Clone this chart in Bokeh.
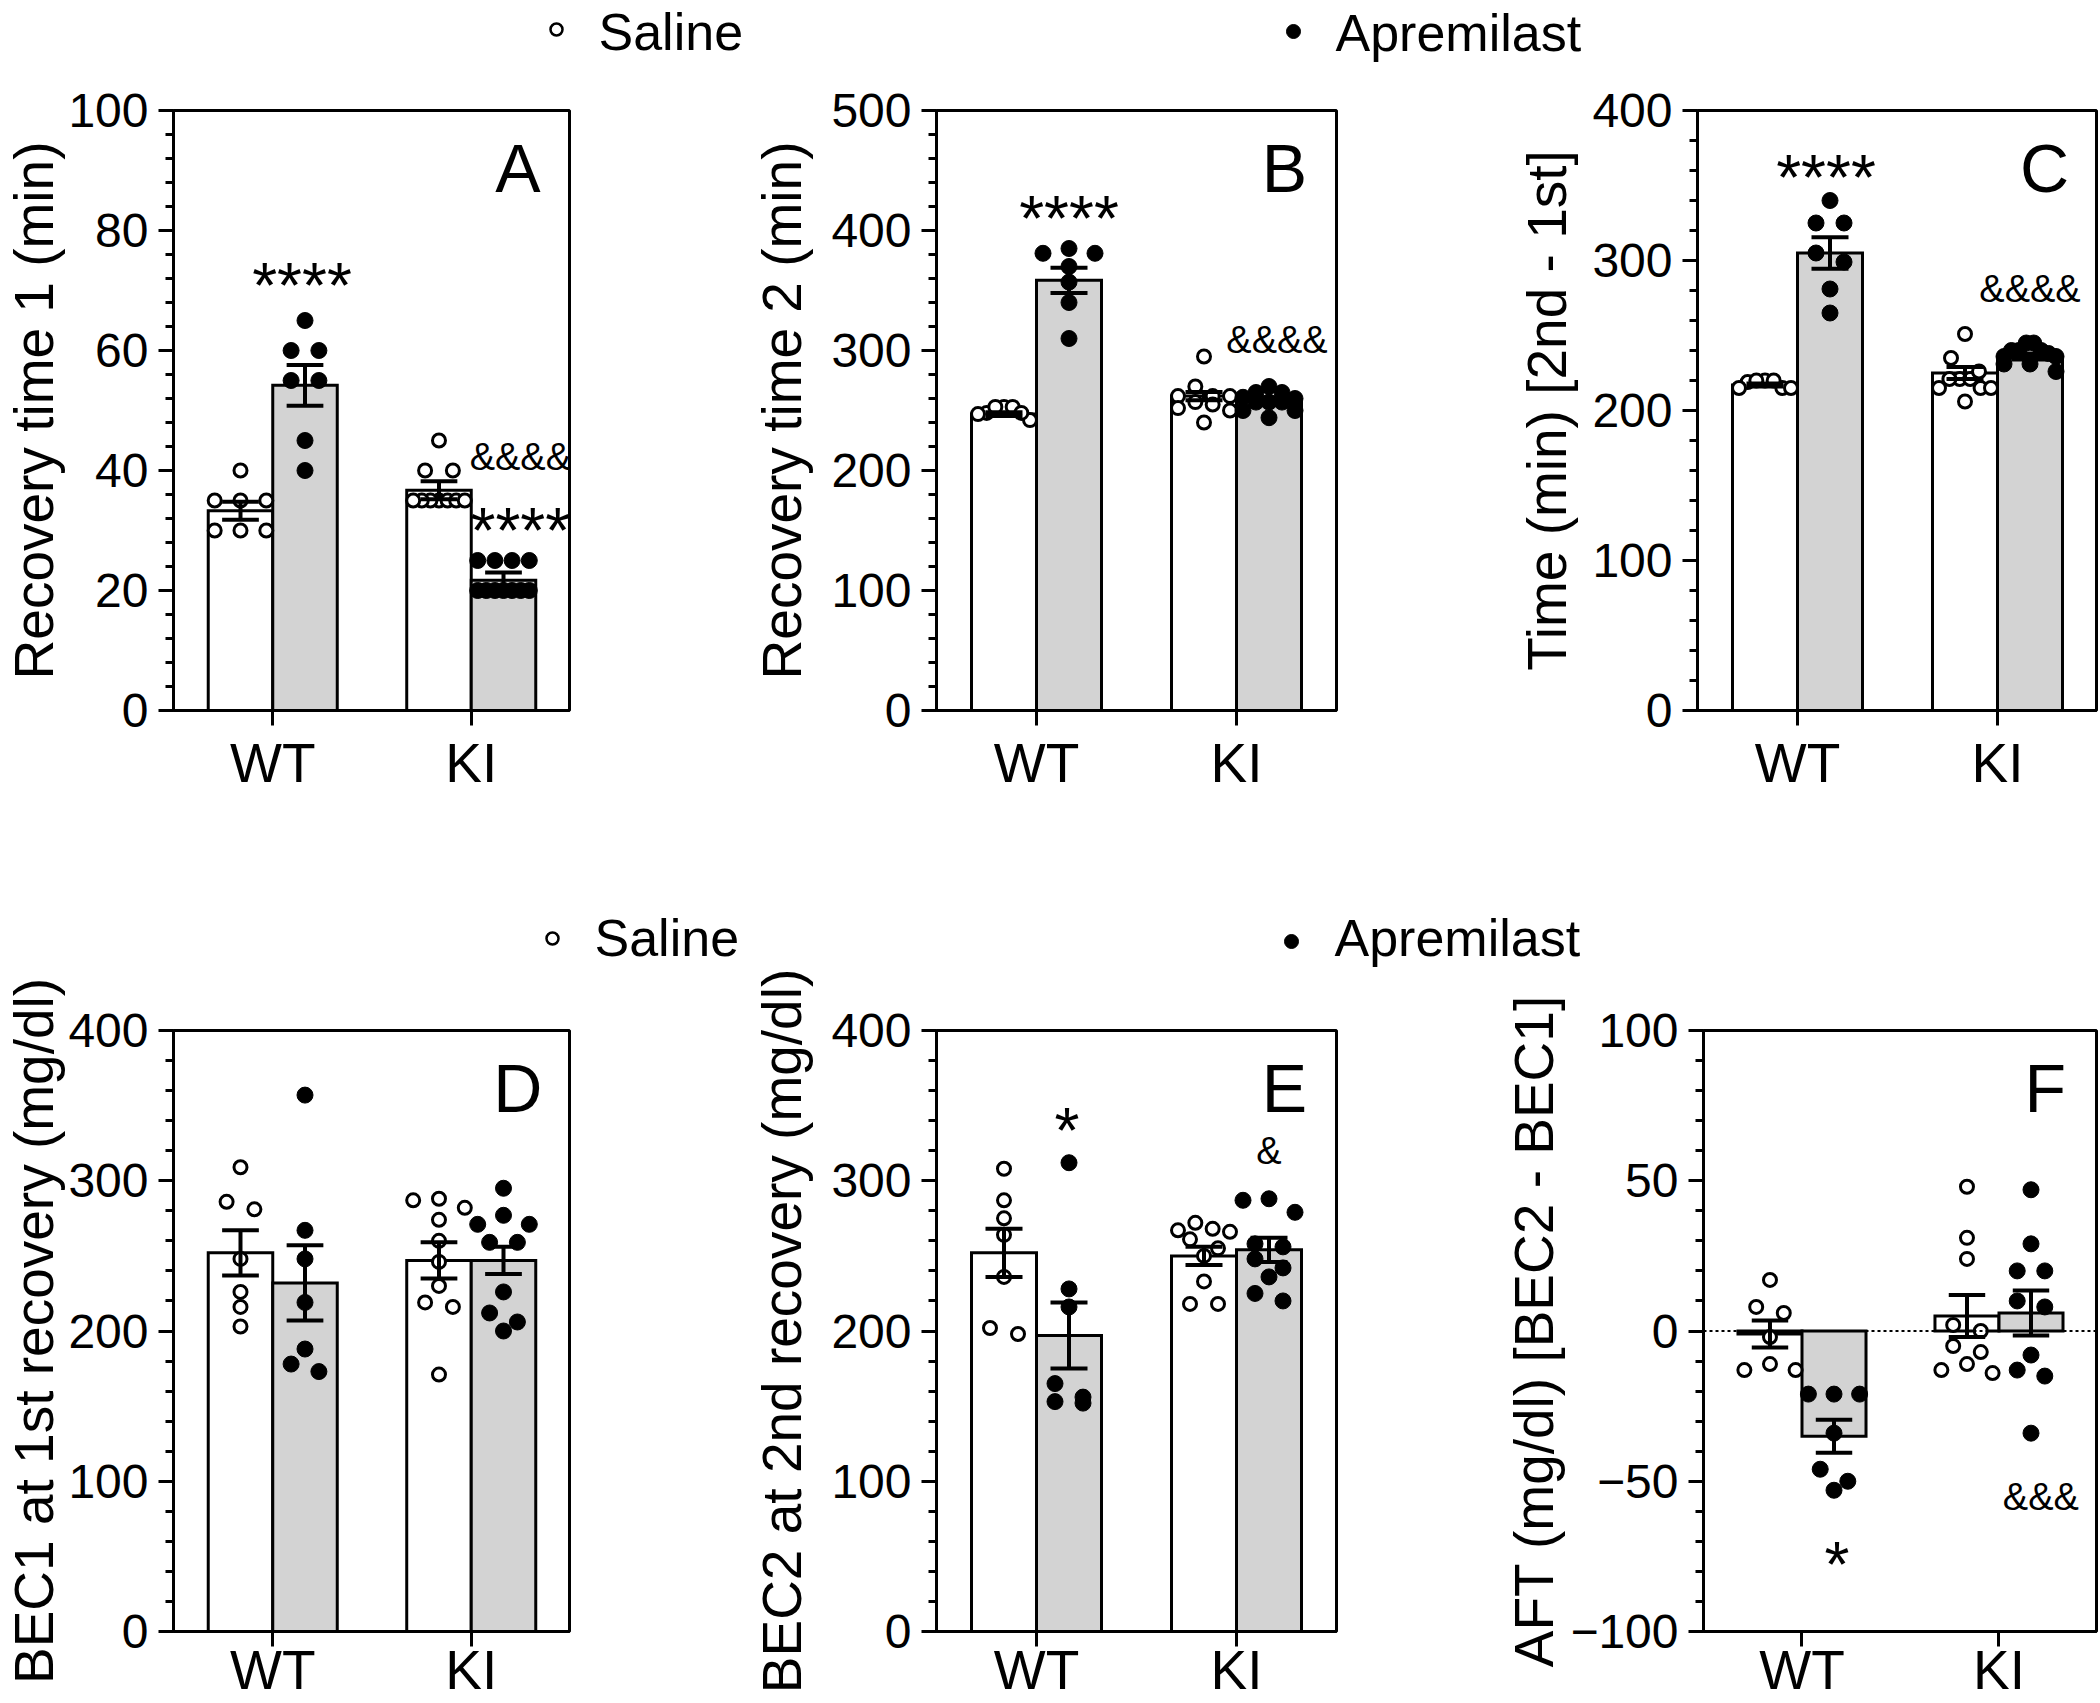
from bokeh.plotting import figure
from bokeh.layouts import column, row
from bokeh.models import Range1d, SingleIntervalTicker, FixedTicker, Span
from bokeh.embed import file_html
from bokeh.resources import INLINE
from bokeh.core.properties import value

FONT = "Liberation Sans"

# ---------------- data ----------------
groups = ["WT", "KI"]
treatments = ["Saline", "Apremilast"]

# A: Recovery time 1 (min)
a_wt_saline = [40, 35, 35, 35, 30, 30, 30]
a_wt_apremilast = [65, 60, 60, 55, 55, 45, 40]
a_ki_saline = [45, 40, 40, 35, 35, 35, 35, 35, 35, 35]
a_ki_apremilast = [25, 25, 25, 25, 20, 20, 20, 20, 20, 20, 20]
a_means = [33.3, 54.2, 36.7, 21.7]
a_sems = [1.5, 3.4, 1.5, 1.3]

# B: Recovery time 2 (min)
b_wt_saline = [248, 253, 253, 242, 253, 247, 248]
b_wt_apremilast = [381, 385, 381, 370, 357, 340, 310]
b_ki_saline = [295, 270, 262, 262, 257, 250, 255, 240, 262, 252]
b_ki_apremilast = [265, 270, 265, 260, 250, 250, 244, 257, 257, 257, 261]
b_means = [247, 358.5, 262, 259]
b_sems = [1.5, 10.5, 3.5, 2.0]

# C: Time (min) [2nd - 1st]
c_wt_saline = [215, 219, 220, 220, 215, 220, 215]
c_wt_apremilast = [340, 325, 325, 299, 305, 281, 265]
c_ki_saline = [251, 235, 221, 221, 221, 226, 215, 215, 215, 206]
c_ki_apremilast = [240, 245, 240, 240, 245, 226, 231, 231, 236, 236, 238]
c_means = [217, 305, 225, 236]
c_sems = [1.0, 10.5, 4.0, 2.0]

# D: BEC1 at 1st recovery (mg/dl)
d_wt_saline = [309, 281, 286, 248, 226, 216, 203]
d_wt_apremilast = [357, 267, 248, 219, 188, 173, 178]
d_ki_saline = [282, 287, 288, 274, 260, 246, 230, 219, 216, 171]
d_ki_apremilast = [295, 271, 277, 271, 259, 259, 226, 212, 200, 206]
d_means = [252, 232, 247, 247]
d_sems = [15, 25, 12, 9]

# E: BEC2 at 2nd recovery (mg/dl)
e_wt_saline = [308, 287, 275, 264, 236, 198, 202]
e_wt_apremilast = [312, 228, 216, 152, 156, 165, 153]
e_ki_saline = [267, 266, 272, 268, 255, 261, 250, 233, 218, 218]
e_ki_apremilast = [288, 287, 279, 258, 256, 248, 242, 236, 220, 225]
e_means = [252, 197, 250, 254]
e_sems = [16, 22, 6, 8]

# F: AFT (mg/dl) [BEC2 - BEC1]
f_wt_saline = [17, 6, 8, -2, -13, -11, -13]
f_wt_apremilast = [-21, -21, -21, -34, -46, -50, -53]
f_ki_saline = [48, 31, 24, 2, 0, -5, -11, -7, -13, -14]
f_ki_apremilast = [47, 29, 20, 20, 8, 10, -8, -13, -15, -34]
f_means = [-1, -35, 5, 6]
f_sems = [4.5, 5.5, 7.0, 7.5]

# significance marks: (text, group index, treatment index, value at glyph centre, x shift px)
a_marks = [("****", 0, 1, 73.2, -3), ("&&&&", 1, 1, 42.2, 17), ("****", 1, 1, 32.3, 17)]
b_marks = [("****", 0, 1, 421.7, 0), ("&&&&", 1, 1, 308.8, 8)]
c_marks = [("****", 0, 1, 365, -4), ("&&&&", 1, 1, 280.7, 0)]
d_marks = []
e_marks = [("*", 0, 1, 342.8, -2), ("&", 1, 1, 319.7, 0)]
f_marks = [("*", 0, 1, -72.9, 3), ("&&&", 1, 1, -55.2, 10)]

panel_letters = ["A", "B", "C", "D", "E", "F"]
y_titles = ["Recovery time 1 (min)", "Recovery time 2 (min)", "Time (min) [2nd - 1st]",
            "BEC1 at 1st recovery (mg/dl)", "BEC2 at 2nd recovery (mg/dl)", "AFT (mg/dl) [BEC2 - BEC1]"]
y_limits = [(0, 100), (0, 500), (0, 400), (0, 400), (0, 400), (-100, 100)]
y_major = [20, 100, 100, 100, 100, 50]

# ---------------- layout (page pixels) ----------------
PX_PER_X = 200.0
BAR_W = 0.325
CAP_W = 0.185
DOT = 16.0
COLS = [  # fig_left, fig_right, frame_left, frame_right
    (0, 740, 170, 569),
    (740, 1500, 936, 1336),
    (1500, 2100, 1697, 2096),
]
ROWS = [  # fig_top, fig_bottom, frame_top, frame_bottom, x label standoff
    (80, 900, 110, 710, 6),
    (968, 1703, 1030, 1631, -8),
]
TITLE_STANDOFF = [0, 15, 11, 0, 15, 2]
LETTER_FROM_RIGHT = 52
LETTER_FRAC = 0.905


def swarm_offsets(vals, pxv, dia=DOT - 2, maxspan=52.0):
    n = len(vals)
    order = sorted(range(n), key=lambda i: -vals[i])
    rows_ = []
    for i in order:
        if rows_ and (vals[rows_[-1][0]] - vals[i]) * pxv < dia:
            rows_[-1].append(i)
        else:
            rows_.append([i])
    off = [0.0] * n
    for r in rows_:
        k = len(r)
        if k == 1:
            continue
        sp = min(2 * dia, maxspan / (k - 1))
        slots = [(j - (k - 1) / 2.0) * sp for j in range(k)]
        slots.sort(key=lambda s: (abs(s), s))
        for idx, s in zip(r, slots):
            off[idx] = s
    return off


def make_panel(idx, series, means, sems, marks):
    ci, ri = idx % 3, idx // 3
    fl, fr, xl, xr = COLS[ci]
    ft, fb, yt, yb, xstand = ROWS[ri]
    y0, y1 = y_limits[idx]
    fw, fh = fr - fl, fb - ft
    frame_w, frame_h = xr - xl, yb - yt
    pxv = frame_h / (y1 - y0)
    xs, xe = 0.5, 0.5 + frame_w / PX_PER_X

    p = figure(width=fw, height=fh, x_range=Range1d(xs, xe), y_range=Range1d(y0, y1),
               output_backend="svg", toolbar_location=None,
               min_border_left=xl - fl, min_border_right=fw - (xl - fl) - frame_w,
               min_border_top=yt - ft, min_border_bottom=fh - (yt - ft) - frame_h)
    p.background_fill_color = "white"
    p.border_fill_color = "white"
    p.xgrid.grid_line_color = None
    p.ygrid.grid_line_color = None
    p.outline_line_color = "black"
    p.outline_line_width = 3
    p.outline_line_alpha = 1.0

    ya = p.yaxis[0]
    ya.ticker = SingleIntervalTicker(interval=y_major[idx], num_minor_ticks=5)
    ya.axis_line_width = 3
    ya.axis_line_color = "black"
    ya.major_tick_line_width = 3
    ya.minor_tick_line_width = 3
    ya.major_tick_out = 15
    ya.major_tick_in = 0
    ya.minor_tick_out = 8
    ya.minor_tick_in = 0
    ya.major_label_text_font = FONT
    ya.major_label_text_font_size = "48px"
    ya.major_label_text_color = "black"
    ya.major_label_standoff = 10
    ya.axis_label = y_titles[idx]
    ya.axis_label_text_font = FONT
    ya.axis_label_text_font_size = "55px"
    ya.axis_label_text_font_style = "normal"
    ya.axis_label_text_color = "black"
    ya.axis_label_standoff = TITLE_STANDOFF[idx]

    xa = p.xaxis[0]
    xa.ticker = FixedTicker(ticks=[1, 2], minor_ticks=[])
    xa.major_label_overrides = {1: groups[0], 2: groups[1]}
    xa.axis_line_width = 3
    xa.major_tick_line_width = 3
    xa.major_tick_out = 15
    xa.major_tick_in = 0
    xa.major_label_text_font = FONT
    xa.major_label_text_font_size = "55px"
    xa.major_label_text_color = "black"
    xa.major_label_standoff = xstand

    if y0 < 0 < y1:
        p.add_layout(Span(location=0, dimension="width", line_color="black",
                          line_width=2, line_dash="3 3"))

    # bars
    bx, bt, fills = [], [], []
    for k in range(4):
        g, t = k // 2, k % 2
        bx.append(g + 1 + (t - 0.5) * BAR_W)
        bt.append(means[k])
        fills.append("white" if t == 0 else "#d3d3d3")
    p.vbar(x=bx, top=bt, bottom=0, width=BAR_W, fill_color=fills,
           line_color="black", line_width=3, line_join="miter")

    # points
    for k in range(4):
        vals = series[k]
        offs = swarm_offsets(vals, pxv)
        px = [bx[k] + o / PX_PER_X for o in offs]
        if k % 2 == 0:
            p.scatter(px, vals, marker="circle", size=DOT - 3, fill_color="white",
                      line_color="black", line_width=3)
        else:
            p.scatter(px, vals, marker="circle", size=DOT, fill_color="black",
                      line_color="black", line_width=1)

    # error bars
    sx0, sy0, sx1, sy1 = [], [], [], []
    for k in range(4):
        lo, hi = means[k] - sems[k], means[k] + sems[k]
        sx0 += [bx[k], bx[k] - CAP_W / 2, bx[k] - CAP_W / 2]
        sx1 += [bx[k], bx[k] + CAP_W / 2, bx[k] + CAP_W / 2]
        sy0 += [lo, lo, hi]
        sy1 += [hi, lo, hi]
    p.segment(sx0, sy0, sx1, sy1, line_color="black", line_width=4)

    # significance marks
    for txt, g, t, v, dx in marks:
        cx = g + 1 + (t - 0.5) * BAR_W + dx / PX_PER_X
        if "*" in txt:
            size = 64
            yy = v - 0.23 * size / pxv
        else:
            size = 38
            yy = v
        p.text(x=[cx], y=[yy], text=[txt], text_font=value(FONT),
               text_font_size=value(f"{size}px"), text_align="center",
               text_baseline="middle", text_color="black")

    # panel letter
    lx = xs + (frame_w - LETTER_FROM_RIGHT) / PX_PER_X
    ly = y0 + LETTER_FRAC * (y1 - y0)
    p.text(x=[lx], y=[ly], text=[panel_letters[idx]], text_font=value(FONT),
           text_font_size=value("68px"), text_align="center", text_baseline="middle",
           text_color="black")
    return p


def legend_strip(top, bottom, sal_xy, sal_text, apr_xy, apr_text):
    p = figure(width=2100, height=bottom - top, x_range=Range1d(0, 2100),
               y_range=Range1d(bottom, top), x_axis_type=None, y_axis_type=None,
               output_backend="svg", toolbar_location=None, min_border=0)
    p.grid.visible = False
    p.outline_line_color = None
    p.background_fill_color = "white"
    p.border_fill_color = "white"
    p.scatter([sal_xy[0]], [sal_xy[1]], marker="circle", size=12, fill_color="white",
              line_color="black", line_width=2.5)
    p.scatter([apr_xy[0]], [apr_xy[1]], marker="circle", size=14, fill_color="black",
              line_color="black")
    p.text(x=[sal_text[0]], y=[sal_text[1]], text=[treatments[0]], text_font=value(FONT),
           text_font_size=value("52px"), text_baseline="middle", text_align="left")
    p.text(x=[apr_text[0]], y=[apr_text[1]], text=[treatments[1]], text_font=value(FONT),
           text_font_size=value("52px"), text_baseline="middle", text_align="left")
    return p


panel_data = [
    ([a_wt_saline, a_wt_apremilast, a_ki_saline, a_ki_apremilast], a_means, a_sems, a_marks),
    ([b_wt_saline, b_wt_apremilast, b_ki_saline, b_ki_apremilast], b_means, b_sems, b_marks),
    ([c_wt_saline, c_wt_apremilast, c_ki_saline, c_ki_apremilast], c_means, c_sems, c_marks),
    ([d_wt_saline, d_wt_apremilast, d_ki_saline, d_ki_apremilast], d_means, d_sems, d_marks),
    ([e_wt_saline, e_wt_apremilast, e_ki_saline, e_ki_apremilast], e_means, e_sems, e_marks),
    ([f_wt_saline, f_wt_apremilast, f_ki_saline, f_ki_apremilast], f_means, f_sems, f_marks),
]
figs = [make_panel(i, *panel_data[i]) for i in range(6)]

leg1 = legend_strip(0, 80, (556, 29), (598, 31), (1293, 31), (1335, 32))
leg2 = legend_strip(900, 968, (552, 938), (594, 937), (1291, 941), (1334, 937))

layout = column(leg1, row(*figs[:3]), leg2, row(*figs[3:]))
open("out.html", "w").write(file_html(layout, INLINE))
